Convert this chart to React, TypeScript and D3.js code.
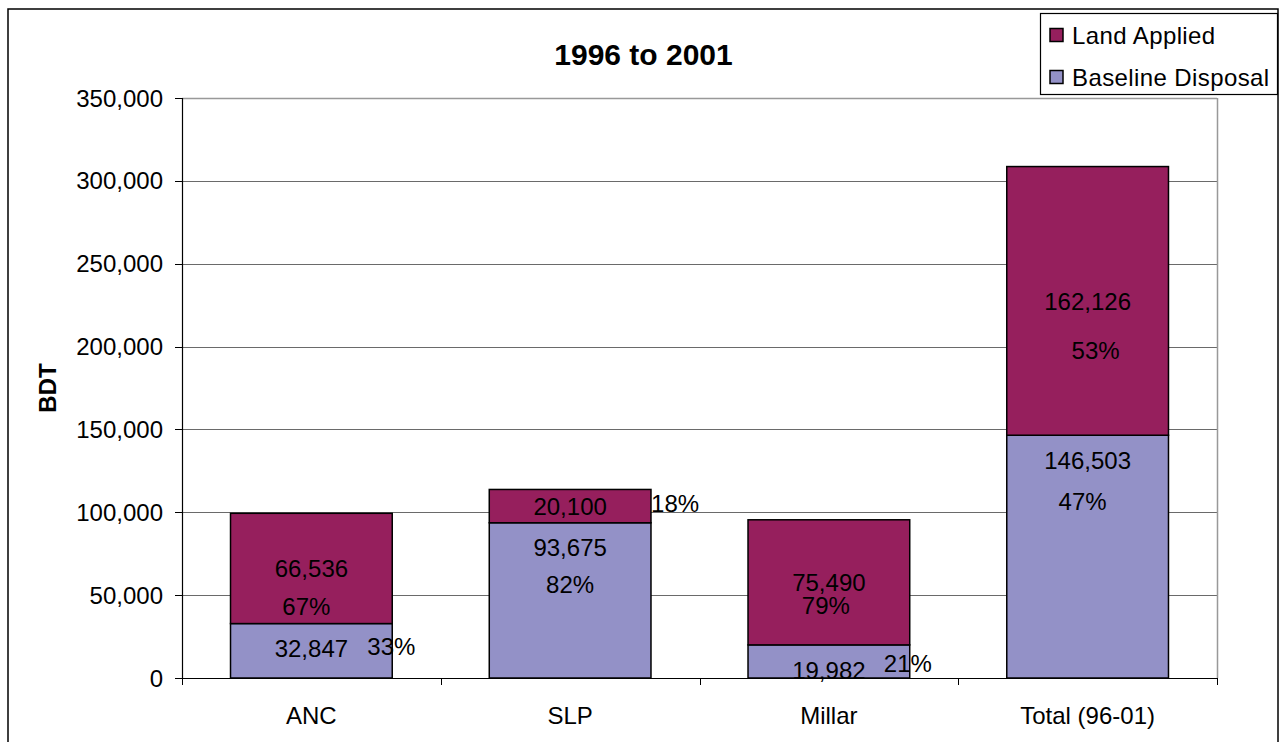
import React from "react";
import * as d3 from "d3";

const categories = ["ANC", "SLP", "Millar", "Total (96-01)"];
const baselineDisposal = [32847, 93675, 19982, 146503];
const landApplied = [66536, 20100, 75490, 162126];
const yTicks = [0, 50000, 100000, 150000, 200000, 250000, 300000, 350000];
const seriesNames = ["Land Applied", "Baseline Disposal"];
const chartTitle = "1996 to 2001";
const yAxisTitle = "BDT";

// percentage label offsets relative to the value labels (layout only)
const landPctOffset = [
  { dx: -5, dy: 38 },
  { dx: 105, dy: -3 },
  { dx: -3, dy: 23 },
  { dx: 8, dy: 49 },
];
const basePctOffset = [
  { dx: 80, dy: -2 },
  { dx: 0, dy: 37 },
  { dx: 79, dy: -7 },
  { dx: -5, dy: 41 },
];

const W = 1283;
const H = 742;
const plot = { left: 182, right: 1217, top: 98, bottom: 678 };
const LAND = "#961F5D";
const BASE = "#9391C7";
const FONT = "'Liberation Sans', Arial, Helvetica, sans-serif";

export default function App() {
  const x = d3
    .scaleBand<string>()
    .domain(categories)
    .range([plot.left, plot.right])
    .paddingInner(0.375)
    .paddingOuter(0.1875);
  const y = d3.scaleLinear().domain([0, 350000]).range([plot.bottom, plot.top]);
  const fmt = d3.format(",");
  const step = x.step();
  const bw = x.bandwidth();
  const boundaries = d3.range(categories.length + 1).map((i) => plot.left + i * step);

  return (
    <svg
      width={W}
      height={H}
      style={{ position: "absolute", left: 0, top: 0, background: "#fff" }}
      fontFamily={FONT}
    >
      <rect x={8} y={9} width={1270} height={800} fill="#fff" stroke="#000" strokeWidth={1.5} />

      {/* gridlines */}
      {yTicks.map((t) =>
        t === 0 ? null : (
          <line
            key={"g" + t}
            x1={plot.left}
            x2={plot.right}
            y1={Math.round(y(t)) + 0.5}
            y2={Math.round(y(t)) + 0.5}
            stroke="#6a6a6a"
            strokeWidth={1}
          />
        )
      )}
      {/* plot area border right/top */}
      <line x1={plot.right + 0.5} x2={plot.right + 0.5} y1={plot.top} y2={plot.bottom} stroke="#999" strokeWidth={1.5} />
      <line x1={plot.left} x2={plot.right} y1={plot.top + 0.5} y2={plot.top + 0.5} stroke="#999" strokeWidth={1.5} />

      {/* bars */}
      {categories.map((c, i) => {
        const x0 = x(c) as number;
        const b = baselineDisposal[i];
        const l = landApplied[i];
        return (
          <g key={"bar" + c}>
            <rect x={x0} y={y(b)} width={bw} height={y(0) - y(b)} fill={BASE} stroke="#000" strokeWidth={1.5} />
            <rect x={x0} y={y(b + l)} width={bw} height={y(b) - y(b + l)} fill={LAND} stroke="#000" strokeWidth={1.5} />
          </g>
        );
      })}

      {/* axes */}
      <line x1={plot.left + 0.5} x2={plot.left + 0.5} y1={plot.top} y2={plot.bottom} stroke="#000" strokeWidth={1.2} />
      <line x1={plot.left} x2={plot.right} y1={plot.bottom + 0.5} y2={plot.bottom + 0.5} stroke="#000" strokeWidth={1.2} />
      {yTicks.map((t) => (
        <g key={"yt" + t}>
          <line x1={plot.left - 7} x2={plot.left} y1={Math.round(y(t)) + 0.5} y2={Math.round(y(t)) + 0.5} stroke="#000" />
          <text x={163} y={y(t)} dy="0.36em" textAnchor="end" fontSize={24} fill="#000">
            {fmt(t)}
          </text>
        </g>
      ))}
      {boundaries.map((bx, i) => (
        <line key={"xt" + i} x1={Math.round(bx) + 0.5} x2={Math.round(bx) + 0.5} y1={plot.bottom} y2={plot.bottom + 7} stroke="#000" />
      ))}
      {categories.map((c) => (
        <text key={"xl" + c} x={(x(c) as number) + bw / 2} y={715} dy="0.36em" textAnchor="middle" fontSize={24} fill="#000">
          {c}
        </text>
      ))}

      {/* data labels */}
      {categories.map((c, i) => {
        const cx = (x(c) as number) + bw / 2;
        const b = baselineDisposal[i];
        const l = landApplied[i];
        const tot = b + l;
        const landY = (y(b) + y(tot)) / 2;
        const baseY = y(b) + 25;
        const landPct = Math.round((l / tot) * 100) + "%";
        const basePct = Math.round((b / tot) * 100) + "%";
        return (
          <g key={"lbl" + c} fontSize={24} fill="#000" textAnchor="middle">
            <text x={cx} y={landY} dy="0.36em">{fmt(l)}</text>
            <text x={cx + landPctOffset[i].dx} y={landY + landPctOffset[i].dy} dy="0.36em">{landPct}</text>
            <text x={cx} y={baseY} dy="0.36em">{fmt(b)}</text>
            <text x={cx + basePctOffset[i].dx} y={baseY + basePctOffset[i].dy} dy="0.36em">{basePct}</text>
          </g>
        );
      })}

      {/* title */}
      <text x={643.5} y={65} textAnchor="middle" fontSize={30} fontWeight="bold" fill="#000">
        {chartTitle}
      </text>
      {/* y axis title */}
      <text
        transform={`translate(47,${(plot.top + plot.bottom) / 2}) rotate(-90)`}
        textAnchor="middle"
        dy="0.36em"
        fontSize={24}
        fontWeight="bold"
        fill="#000"
      >
        {yAxisTitle}
      </text>

      {/* legend */}
      <rect x={1040.5} y={13.5} width={237} height={81} fill="#fff" stroke="#000" strokeWidth={1.2} />
      {seriesNames.map((s, i) => (
        <g key={"lg" + s}>
          <rect x={1050} y={28.5 + i * 42} width={13} height={13} fill={i === 0 ? LAND : BASE} stroke="#000" strokeWidth={1.5} />
          <text x={1072} y={35 + i * 42} dy="0.36em" fontSize={24} fill="#000" letterSpacing={0.4}>
            {s}
          </text>
        </g>
      ))}
    </svg>
  );
}
